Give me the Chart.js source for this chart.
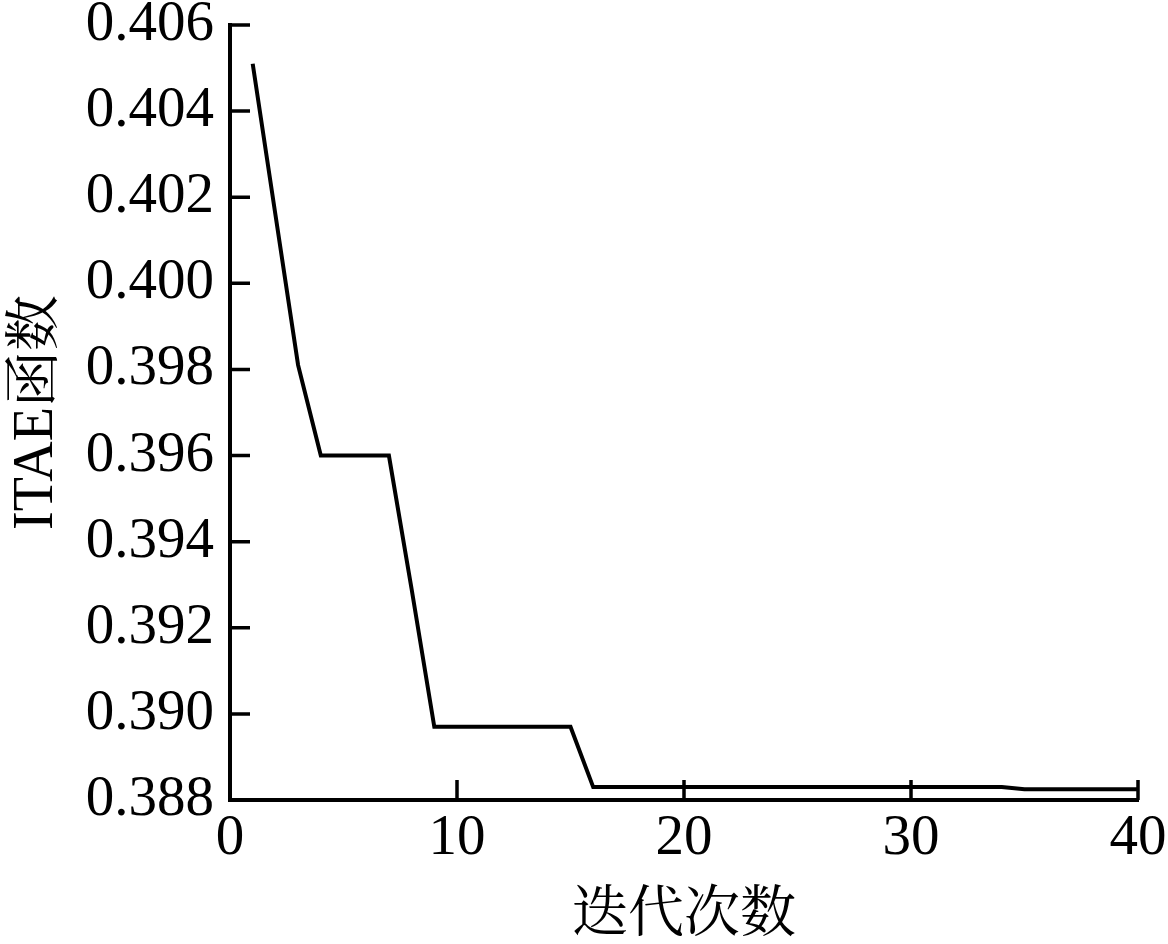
<!DOCTYPE html>
<html>
<head>
<meta charset="utf-8">
<script src="https://cdn.jsdelivr.net/npm/chart.js@4/dist/chart.umd.min.js"></script>
<style>
  html, body { margin: 0; padding: 0; background: #fff; }
  #wrap { width: 1168px; height: 944px; }
</style>
</head>
<body>
<div id="wrap"><canvas id="chart" width="1168" height="944"></canvas></div>
<script>
// iteration number and ITAE value
const iterations = [1, 2, 3, 4, 5, 6, 7, 8, 9, 10,
    11, 12, 13, 14, 15, 16, 17, 18, 19, 20,
    21, 22, 23, 24, 25, 26, 27, 28, 29, 30,
    31, 32, 33, 34, 35, 36, 37, 38, 39, 40];
const itae = [0.4051, 0.4016, 0.3981, 0.3960, 0.3960, 0.3960, 0.3960, 0.3929, 0.3897, 0.3897,
    0.3897, 0.3897, 0.3897, 0.3897, 0.3897, 0.3883, 0.3883, 0.3883, 0.3883, 0.3883,
    0.3883, 0.3883, 0.3883, 0.3883, 0.3883, 0.3883, 0.3883, 0.3883, 0.3883, 0.3883,
    0.3883, 0.3883, 0.3883, 0.3883, 0.38825, 0.38825, 0.38825, 0.38825, 0.38825, 0.38825];

const xTitle = "迭代次数";
const yTitle = "ITAE函数";
const xRange = [0, 40, 10];
const yRange = [0.388, 0.406, 0.002];

const fontFamily = "'Liberation Serif', 'Times New Roman', 'Noto Serif CJK SC', 'Noto Sans CJK SC', serif";

// ticks pointing into the plot area
const innerTicks = {
    id: 'innerTicks',
    afterDatasetsDraw(chart) {
        const ctx = chart.ctx;
        const area = chart.chartArea;
        const len = 20;
        ctx.save();
        ctx.strokeStyle = '#000';
        ctx.lineWidth = 3.5;
        ctx.beginPath();
        chart.scales.x.ticks.forEach((t, i) => {
            const px = chart.scales.x.getPixelForTick(i);
            ctx.moveTo(px, area.bottom);
            ctx.lineTo(px, area.bottom - len);
        });
        chart.scales.y.ticks.forEach((t, i) => {
            const py = chart.scales.y.getPixelForTick(i);
            ctx.moveTo(area.left, py);
            ctx.lineTo(area.left + len, py);
        });
        ctx.stroke();
        ctx.restore();
    }
};

const chartCanvas = document.getElementById("chart").getContext("2d");

let myChart = new Chart(chartCanvas, {
    type: "line",
    data: {
        datasets: [{
            data: iterations.map((it, i) => ({ x: it, y: itae[i] })),
            borderColor: "#000",
            borderWidth: 4,
            pointRadius: 0,
            tension: 0,
            fill: false,
        }]
    },
    options: {
        responsive: false,
        animation: false,
        layout: { padding: { top: 25, right: 30, left: 0, bottom: 0 } },
        plugins: {
            legend: { display: false },
            tooltip: { enabled: false }
        },
        scales: {
            x: {
                type: 'linear',
                min: xRange[0],
                max: xRange[1],
                ticks: {
                    stepSize: xRange[2],
                    color: '#000',
                    padding: 5,
                    font: { family: fontFamily, size: 57 }
                },
                grid: { display: false, drawTicks: false },
                border: { display: true, color: '#000', width: 4 },
                title: {
                    display: true,
                    text: xTitle,
                    color: '#000',
                    padding: { top: 6, bottom: 0 },
                    font: { family: fontFamily, size: 56, lineHeight: 1.0 }
                },
                afterFit(scale) {
                    scale.height = 144;
                    scale.paddingLeft = 0;
                    scale.paddingRight = 0;
                }
            },
            y: {
                min: yRange[0],
                max: yRange[1],
                ticks: {
                    stepSize: yRange[2],
                    color: '#000',
                    padding: 16,
                    font: { family: fontFamily, size: 57 },
                    callback: v => v.toFixed(3)
                },
                grid: { display: false, drawTicks: false },
                border: { display: true, color: '#000', width: 4 },
                title: {
                    display: true,
                    text: yTitle,
                    color: '#000',
                    padding: { top: 4, bottom: 0 },
                    font: { family: fontFamily, size: 56 }
                },
                afterFit(scale) {
                    scale.width = 230;
                    scale.paddingTop = 0;
                    scale.paddingBottom = 0;
                }
            }
        }
    },
    plugins: [innerTicks]
});
</script>
</body>
</html>
